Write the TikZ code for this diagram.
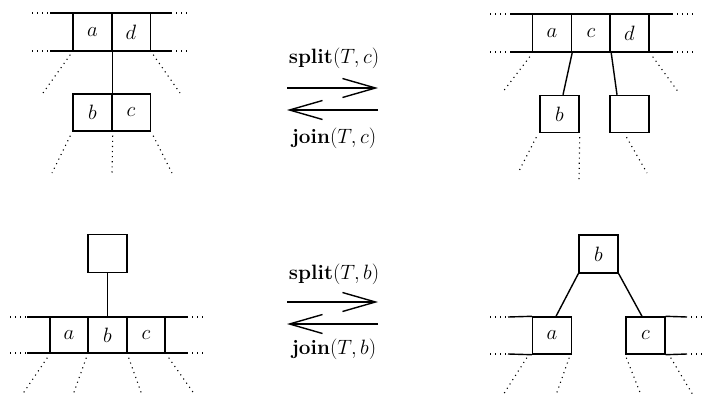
\documentclass[tikz,border=0pt]{standalone}
\usetikzlibrary{arrows.meta}
\tikzset{
  cell/.style={draw, line width=1.4pt, minimum width=39pt, minimum height=38pt, inner sep=0pt, font=\fontsize{20.74}{24}\selectfont},
  solid line/.style={line width=1.4pt},
  dots/.style={line width=1.1pt, dash pattern=on 1.1pt off 4pt},
  bigarrow/.style={line width=1.4pt, -{Straight Barb[length=33pt,width=19pt,line width=1.4pt]}},
  lab/.style={font=\fontsize{20.74}{24}\selectfont, inner sep=0pt}
}
\begin{document}
\begin{tikzpicture}[x=1pt,y=-1pt]
\useasboundingbox (0,0) rectangle (704,399);
% ---------------- top left ----------------
\node[cell] (tla) at (92.5,32) {$a$};
\node[cell] (tld) at (131,32) {$d$};
\coordinate (tlTL) at (50,13); \coordinate (tlTR) at (172,13);
\coordinate (tlBL) at (50,51); \coordinate (tlBR) at (172,51);
\draw[solid line] (tlTL) -- (tlTR);
\draw[solid line] (tlBL) -- (tlBR);
\draw[dots] (32,13) -- (tlTL); \draw[dots] (tlTR) ++(4,0) -- (190,13);
\draw[dots] (32,51) -- (tlBL); \draw[dots] (tlBR) ++(4,0) -- (190,51);
\node[cell, minimum height=37pt] (tlb) at (92.5,112.5) {$b$};
\node[cell, minimum height=37pt] (tlc) at (131,112.5) {$c$};
\draw[solid line] (tla.south east) -- (tlb.north east);
\coordinate (tld1) at (43,93); \coordinate (tld2) at (180,93);
\coordinate (tld3) at (52,173); \coordinate (tld4) at (112,173); \coordinate (tld5) at (172,173);
\draw[dots] ([shift={(-2,3)}]tla.south west) -- (tld1);
\draw[dots] ([shift={(2,3)}]tld.south east) -- (tld2);
\draw[dots] ([shift={(-2,4)}]tlb.south west) -- (tld3);
\draw[dots] ([shift={(0,4)}]tlb.south east) -- (tld4);
\draw[dots] ([shift={(2,4)}]tlc.south east) -- (tld5);
% ---------------- top arrows ----------------
\node[lab] (ls1) at (334,58) {\textbf{split}$(T,c)$};
\node[lab] (lj1) at (334,138) {\textbf{join}$(T,c)$};
\coordinate (ra1) at (287,88); \coordinate (rb1) at (378,88);
\coordinate (la1) at (378,110); \coordinate (lb1) at (287,110);
\draw[bigarrow] (ra1) -- (rb1);
\draw[bigarrow] (la1) -- (lb1);
% ---------------- top right ----------------
\node[cell] (tra) at (552,33) {$a$};
\node[cell] (trc) at (591,33) {$c$};
\node[cell] (trd) at (629.5,33) {$d$};
\coordinate (trTL) at (510,14); \coordinate (trTR) at (673,14);
\coordinate (trBL) at (510,52); \coordinate (trBR) at (673,52);
\draw[solid line] (trTL) -- (trTR);
\draw[solid line] (trBL) -- (trBR);
\draw[dots] (490,14) -- (trTL); \draw[dots] (trTR) ++(4,0) -- (693,14);
\draw[dots] (490,52) -- (trBL); \draw[dots] (trBR) ++(4,0) -- (693,52);
\node[cell, minimum height=37pt] (trb) at (559.5,114) {$b$};
\node[cell, minimum height=37pt] (tre) at (629.5,114) {};
\draw[solid line] (tra.south east) -- ([xshift=3.5pt]trb.north);
\draw[solid line] (trc.south east) -- ([xshift=-12.5pt]tre.north);
\coordinate (trd1) at (502,93); \coordinate (trd2) at (679,93);
\coordinate (trd3) at (518,173); \coordinate (trd4) at (579,181); \coordinate (trd5) at (647,173);
\draw[dots] ([shift={(-2,4)}]tra.south west) -- (trd1);
\draw[dots] ([shift={(3,4)}]trd.south east) -- (trd2);
\draw[dots] ([shift={(-3,4)}]trb.south west) -- (trd3);
\draw[dots] ([shift={(0,4)}]trb.south east) -- (trd4);
\draw[dots] ([shift={(-3,4)}]tre.south) -- (trd5);
% ---------------- bottom left ----------------
\node[cell] (ble) at (107.5,253.5) {};
\node[cell, minimum width=38pt, minimum height=36pt] (bla) at (69,335) {$a$};
\node[cell, minimum height=36pt] (blb) at (107.5,335) {$b$};
\node[cell, minimum width=38pt, minimum height=36pt] (blc) at (146,335) {$c$};
\draw[solid line] (ble.south) -- (blb.north);
\coordinate (blTL) at (27,317); \coordinate (blTR) at (188,317);
\coordinate (blBL) at (27,353); \coordinate (blBR) at (188,353);
\draw[solid line] (blTL) -- (blTR);
\draw[solid line] (blBL) -- (blBR);
\draw[dots] (10,317) -- (blTL); \draw[dots] (blTR) ++(4,0) -- (207,317);
\draw[dots] (10,353) -- (blBL); \draw[dots] (blBR) ++(4,0) -- (207,353);
\coordinate (bld1) at (22,395); \coordinate (bld2) at (73,395);
\coordinate (bld3) at (142,395); \coordinate (bld4) at (195,395);
\draw[dots] ([shift={(-2,4)}]bla.south west) -- (bld1);
\draw[dots] ([shift={(-1,4)}]blb.south west) -- (bld2);
\draw[dots] ([shift={(1,4)}]blb.south east) -- (bld3);
\draw[dots] ([shift={(3,4)}]blc.south east) -- (bld4);
% ---------------- bottom arrows ----------------
\node[lab] (ls2) at (334,274) {\textbf{split}$(T,b)$};
\node[lab] (lj2) at (334,349) {\textbf{join}$(T,b)$};
\coordinate (ra2) at (287,302); \coordinate (rb2) at (378,302);
\coordinate (la2) at (378,324); \coordinate (lb2) at (287,324);
\draw[bigarrow] (ra2) -- (rb2);
\draw[bigarrow] (la2) -- (lb2);
% ---------------- bottom right ----------------
\node[cell] (brb) at (598.5,254) {$b$};
\node[cell, minimum height=37pt] (bra) at (552,335.5) {$a$};
\node[cell, minimum height=37pt] (brc) at (645.5,335.5) {$c$};
\draw[solid line] (brb.south west) -- ([xshift=4pt]bra.north);
\draw[solid line] (brb.south east) -- ([xshift=-3.5pt]brc.north);
\coordinate (brTL) at (508,317); \coordinate (brBL) at (508,354);
\coordinate (brTR) at (687,317); \coordinate (brBR) at (687,354);
\draw[solid line] (brTL) -- (bra.north west);
\draw[solid line] (brBL) -- (bra.south west);
\draw[solid line] (brc.north east) -- (brTR);
\draw[solid line] (brc.south east) -- (brBR);
\draw[dots] (490,317) -- (brTL); \draw[dots] (490,354) -- (brBL);
\draw[dots] (brTR) ++(4,0) -- (702,317); \draw[dots] (brBR) ++(4,0) -- (702,354);
\coordinate (brd1) at (503,395); \coordinate (brd2) at (556,395);
\coordinate (brd3) at (641,395); \coordinate (brd4) at (693,395);
\draw[dots] ([shift={(-5,3)}]bra.south west) -- (brd1);
\draw[dots] ([shift={(-3,3)}]bra.south east) -- (brd2);
\draw[dots] ([shift={(1,3)}]brc.south west) -- (brd3);
\draw[dots] ([shift={(5,3)}]brc.south east) -- (brd4);
\end{tikzpicture}
\end{document}
